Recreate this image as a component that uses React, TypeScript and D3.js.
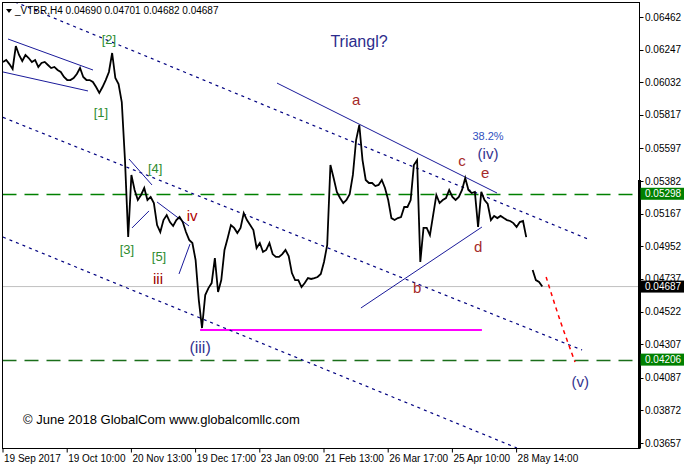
import * as d3 from "d3";

// H4 closes, one sample every ~3 bars (null = gap)
const closes: (number | null)[] = [
  0.06166, 0.06179, 0.06152, 0.0612, 0.06271, 0.06212, 0.06172, 0.06212, 0.06192, 0.06166,
  0.06179, 0.06133, 0.06159, 0.06166, 0.06146, 0.06126, 0.06133, 0.06113, 0.061, 0.06067,
  0.06047, 0.06047, 0.0606, 0.06087, 0.06126, 0.06067, 0.06047, 0.06047, 0.06034, 0.06001,
  0.05962, 0.06001, 0.06047, 0.061, 0.06225, 0.0606, 0.06021, 0.05902, 0.0552, 0.05013,
  0.05422, 0.05323, 0.05257, 0.0529, 0.05336, 0.05257, 0.05277, 0.05237, 0.05092, 0.05046,
  0.05125, 0.05158, 0.05112, 0.05086, 0.05125, 0.05145, 0.05112, 0.05046, 0.04994, 0.04974,
  0.04862, 0.04598, 0.04414, 0.04631, 0.04677, 0.0471, 0.04875, 0.04651, 0.0473, 0.04928,
  0.05007, 0.05092, 0.05073, 0.0504, 0.05073, 0.05171, 0.05125, 0.05092, 0.05059, 0.04941,
  0.04974, 0.04915, 0.04928, 0.04974, 0.04901, 0.04882, 0.04882, 0.04901, 0.04928, 0.04888,
  0.04776, 0.0473, 0.0473, 0.04684, 0.0471, 0.04743, 0.04737, 0.04743, 0.0475, 0.0477,
  0.04849, 0.04961, 0.05487, 0.05402, 0.0531, 0.0527, 0.05237, 0.05257, 0.05296, 0.05422,
  0.05652, 0.05751, 0.0552, 0.05389, 0.05369, 0.05369, 0.05349, 0.05356, 0.05389, 0.05336,
  0.05257, 0.05138, 0.05125, 0.05138, 0.05145, 0.05211, 0.05211, 0.05257, 0.05487, 0.0552,
  0.04849, 0.05073, 0.05073, 0.05026, 0.05158, 0.0529, 0.05237, 0.05257, 0.0527, 0.05323,
  0.05277, 0.05257, 0.05277, 0.05323, 0.05402, 0.05323, 0.05303, 0.0531, 0.05079, 0.0531,
  0.05257, 0.05231, 0.05125, 0.05152, 0.05138, 0.05152, 0.05138, 0.05125, 0.05119, 0.05105,
  0.05079, 0.05112, 0.05119, 0.05013, null, 0.04796, 0.0473, 0.04717, 0.04687,
];

const dateLabels = [
  "19 Sep 2017", "19 Oct 10:00", "20 Nov 13:00", "19 Dec 17:00", "23 Jan 09:00",
  "21 Feb 13:00", "26 Mar 17:00", "25 Apr 10:00", "28 May 14:00",
];
const samplesPerLabel = 20;

const priceTicks = [
  0.06462, 0.06247, 0.06032, 0.05817, 0.05597, 0.05382, 0.05167, 0.04952, 0.04737,
  0.04522, 0.04307, 0.04087, 0.03872, 0.03657,
];

const greenLevels = [0.05298, 0.04206];
const lastPrice = 0.04687;
const lowLevel = { from: 61.4, to: 149.2, price: 0.04401 };

// trend lines: [index, price] pairs
const solidLines: [number, number][][] = [
  [[1.56, 0.06317], [28.04, 0.06113]],
  [[0, 0.061], [26.48, 0.05975]],
  [[39.25, 0.05527], [46.42, 0.05356]],
  [[40.19, 0.05073], [45.48, 0.05185]],
  [[47.98, 0.05244], [57.94, 0.05086]],
  [[54.83, 0.0477], [58.26, 0.04967]],
  [[85.36, 0.06027], [153.9, 0.05303]],
  [[111.5, 0.04546], [149.2, 0.05079]],
];
const dottedLines: [number, number][][] = [
  [[3.74, 0.06561], [182.9, 0.04994]],
  [[0, 0.05801], [180.4, 0.04269]],
  [[0, 0.05013], [160.1, 0.03624]],
];
const projection: [number, number][] = [[169.2, 0.0475], [173.5, 0.04467], [178.2, 0.0419]];

const waveLabels = [
  { t: "[1]", i: 30.5, p: 0.05803, c: "#2e8b2e", s: 13 },
  { t: "[2]", i: 33.0, p: 0.06284, c: "#2e8b2e", s: 13 },
  { t: "[3]", i: 38.6, p: 0.04901, c: "#2e8b2e", s: 13 },
  { t: "[4]", i: 47.4, p: 0.05435, c: "#2e8b2e", s: 13 },
  { t: "[5]", i: 48.6, p: 0.04855, c: "#2e8b2e", s: 13 },
  { t: "iii", i: 48.3, p: 0.04704, c: "#990000", s: 15 },
  { t: "iv", i: 58.9, p: 0.05119, c: "#b00000", s: 15 },
  { t: "(iii)", i: 61.4, p: 0.04249, c: "#33338f", s: 16 },
  { t: "a", i: 110.0, p: 0.05882, c: "#a52a2a", s: 15 },
  { t: "b", i: 129.0, p: 0.04645, c: "#a52a2a", s: 15 },
  { t: "c", i: 143.0, p: 0.05481, c: "#a52a2a", s: 15 },
  { t: "d", i: 148.0, p: 0.04915, c: "#a52a2a", s: 15 },
  { t: "e", i: 150.2, p: 0.05402, c: "#a52a2a", s: 15 },
  { t: "38.2%", i: 151.1, p: 0.05652, c: "#3050c0", s: 11 },
  { t: "(iv)", i: 151.1, p: 0.05527, c: "#33338f", s: 15 },
  { t: "(v)", i: 179.8, p: 0.04026, c: "#33338f", s: 15 },
  { t: "Triangl?", i: 110.9, p: 0.06264, c: "#2c2c8c", s: 16 },
];

const font = "'Liberation Sans', Arial, sans-serif";

export default function App() {
  const W = 684;
  const H = 469;
  const left = 2.5;
  const right = 639.5;
  const top = 2.5;
  const bottom = 448.5;

  const x = d3.scaleLinear().domain([0, 160]).range([3, 516.6]);
  const y = d3.scaleLinear().domain([0.03657, 0.06462]).range([443, 17]);

  const priceLine = d3
    .line<number | null>()
    .defined((d) => d != null)
    .x((_, i) => x(i))
    .y((d) => y(d as number));
  const seg = d3
    .line<[number, number]>()
    .x((d) => x(d[0]))
    .y((d) => y(d[1]));
  const curve = d3
    .line<[number, number]>()
    .curve(d3.curveCatmullRom)
    .x((d) => x(d[0]))
    .y((d) => y(d[1]));

  const dateTicks = dateLabels.map((label, k) => ({ label, pos: x(k * samplesPerLabel) }));

  return (
    <svg
      width={W}
      height={H}
      style={{ position: "absolute", left: 0, top: 0, background: "#fff" }}
      fontFamily={font}
    >
      <defs>
        <clipPath id="plot">
          <rect x={left} y={top} width={right - left} height={bottom - top} />
        </clipPath>
      </defs>
      <rect width={W} height={H} fill="#fff" />

      <g clipPath="url(#plot)">
        <line x1={left} x2={right} y1={y(lastPrice)} y2={y(lastPrice)} stroke="#c0c0c0" strokeWidth={1} />
        {greenLevels.map((p, k) => (
          <line
            key={p}
            x1={left}
            x2={right}
            y1={Math.round(y(p)) + 0.5}
            y2={Math.round(y(p)) + 0.5}
            stroke={k === 0 ? "#008000" : "#1a6e1a"}
            strokeWidth={1.5}
            strokeDasharray="14,8"
          />
        ))}
        <line
          x1={x(lowLevel.from)}
          x2={x(lowLevel.to)}
          y1={y(lowLevel.price)}
          y2={y(lowLevel.price)}
          stroke="#ff00ff"
          strokeWidth={2}
        />
        {dottedLines.map((d, k) => (
          <path key={k} d={seg(d) ?? ""} fill="none" stroke="#000080" strokeWidth={1.2} strokeDasharray="3,4" />
        ))}
        {solidLines.map((d, k) => (
          <path key={k} d={seg(d) ?? ""} fill="none" stroke="#1a1a9a" strokeWidth={1} />
        ))}
        <path d={curve(projection) ?? ""} fill="none" stroke="#ff0000" strokeWidth={1.5} strokeDasharray="4,4" />
        <path d={priceLine(closes) ?? ""} fill="none" stroke="#000" strokeWidth={1.8} strokeLinejoin="miter" />

        {waveLabels.map((l) => (
          <text
            key={l.t + l.i}
            x={x(l.i)}
            y={y(l.p)}
            textAnchor="middle"
            fontSize={l.s}
            fill={l.c}
          >
            {l.t}
          </text>
        ))}

        <text x={23} y={424} fontSize={13} fill="#000">
          © June 2018 GlobalCom www.globalcomllc.com
        </text>
        <path d="M6,9 L12,9 L9,13 Z" fill="#000" />
        <text x={15} y={14} fontSize={10} fill="#000">
          _VTBR,H4 0.04690 0.04701 0.04682 0.04687
        </text>
      </g>

      {/* frame */}
      <rect x={left} y={top} width={right - left} height={bottom - top} fill="none" stroke="#000" strokeWidth={1} />
      <rect x={right - 1.5} y={180} width={3} height={bottom - 180} fill="#000" />

      {/* time axis */}
      {dateTicks.map((t) => (
        <g key={t.label}>
          <line x1={t.pos} x2={t.pos} y1={bottom} y2={bottom + 4} stroke="#000" />
          <text x={t.pos + 1} y={462} fontSize={10} fill="#000">
            {t.label}
          </text>
        </g>
      ))}

      {/* price axis */}
      {priceTicks.map((p) => (
        <g key={p}>
          <line x1={right} x2={right + 4} y1={Math.round(y(p)) + 0.5} y2={Math.round(y(p)) + 0.5} stroke="#000" />
          <text x={645} y={y(p)} dy="0.35em" fontSize={10} fill="#000">
            {p.toFixed(5)}
          </text>
        </g>
      ))}
      {[...greenLevels.map((p) => ({ p, c: "#008000" })), { p: lastPrice, c: "#000" }].map((m) => (
        <g key={m.p}>
          <rect x={right + 1} y={y(m.p) - 6} width={W - right - 1} height={12} fill={m.c} />
          <text x={645} y={y(m.p)} dy="0.35em" fontSize={10} fill="#fff">
            {m.p.toFixed(5)}
          </text>
        </g>
      ))}
    </svg>
  );
}
